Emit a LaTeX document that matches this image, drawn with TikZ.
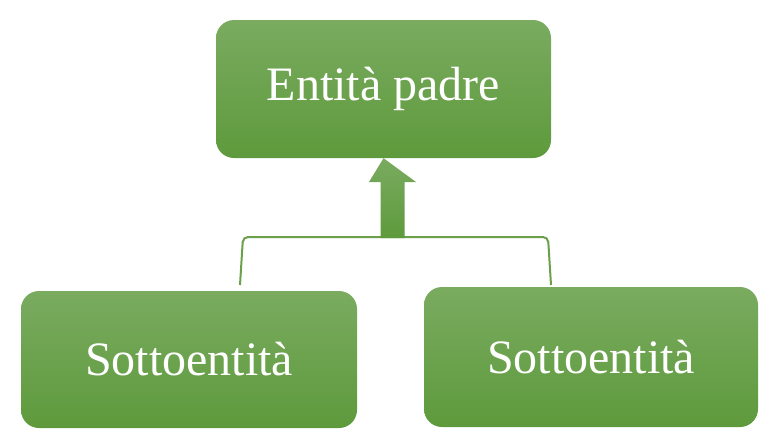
\documentclass[tikz,border=0pt]{standalone}
\usepackage{fontspec}
\setmainfont{Liberation Serif}
\usetikzlibrary{calc}
\begin{document}
\begin{tikzpicture}[x=1pt,y=-1pt,
  box/.style={rounded corners=18pt, top color=boxtop, bottom color=boxbot, draw=none,
    text=white, font=\fontsize{48}{52}\selectfont, inner sep=0pt},
  bracket/.style={draw=linegreen, line width=2pt, rounded corners=5pt}]
\definecolor{boxtop}{RGB}{122,171,96}
\definecolor{boxbot}{RGB}{94,154,60}
\definecolor{linegreen}{RGB}{106,160,74}
\useasboundingbox (0,0) rectangle (784,442);
\node[box, minimum width=335pt, minimum height=138pt] (parent) at (383.5,89) {Entità padre};
\node[box, minimum width=336pt, minimum height=137pt] (childL) at (189,359.5) {Sottoentità};
\node[box, minimum width=334pt, minimum height=140pt] (childR) at (591,357) {Sottoentità};
\coordinate (legL) at (240,285);
\coordinate (legR) at (551,285);
\coordinate (bar) at (392.5,238);
\draw[bracket] (legL) -- (243,237) -- (548,237) -- (legR);
\shade[top color=boxtop, bottom color=boxbot]
  ($(bar)+(-12,0)$) -- ($(bar)+(-12,-56)$) -- ($(bar)+(-23.5,-56)$) -- (parent.south)
  -- ($(bar)+(23.5,-56)$) -- ($(bar)+(12,-56)$) -- ($(bar)+(12,0)$) -- cycle;
\end{tikzpicture}
\end{document}
